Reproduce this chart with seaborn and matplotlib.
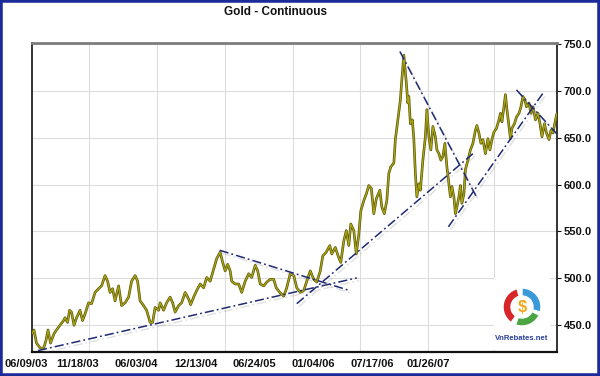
import matplotlib
matplotlib.use("Agg")
import matplotlib.pyplot as plt
import matplotlib.patheffects as pe
from matplotlib.patches import Rectangle, Wedge
import seaborn as sns
import pandas as pd

# gold continuous contract, x = trading-bar index from 06/09/03
bars = [0, 4, 9, 16, 23, 28, 32, 37, 44, 49, 56, 63, 66, 71, 75, 79, 84, 89, 96, 101,
        106, 113, 119, 126, 133, 139, 146, 151, 156, 161, 166, 173, 179, 186, 193, 199, 206, 211, 216, 223,
        229, 236, 241, 246, 253, 256, 263, 269, 276, 281, 286, 293, 299, 306, 313, 317, 323, 329, 336, 343,
        349, 356, 363, 369, 376, 381, 386, 391, 396, 399, 406, 413, 419, 426, 433, 439, 446, 451, 456, 463,
        469, 476, 483, 488, 495, 503, 509, 516, 523, 529, 536, 543, 549, 556, 563, 569, 576, 581, 588, 595,
        599, 606, 613, 617, 623, 628, 633, 637, 643, 648, 653, 657, 663, 668, 673, 678, 683, 688, 695, 699,
        704, 709, 713, 717, 723, 726, 731, 736, 739, 743, 745, 748, 751, 753, 756, 760, 763, 766, 769, 773,
        776, 781, 786, 789, 793, 797, 801, 806, 809, 813, 817, 821, 825, 829, 833, 836, 839, 843, 846, 849,
        853, 856, 859, 863, 866, 871, 876, 881, 886, 889, 893, 897, 901, 906, 911, 915, 919, 923, 928, 933,
        936, 939, 943, 946, 949, 953, 956, 959, 964, 968, 973, 977, 981, 985, 988, 993, 997, 1001, 1006, 1011,
        1015, 1019, 1024, 1028, 1033, 1037, 1041, 1046, 1049]
prices = [441, 445, 431, 426, 425, 434, 445, 431, 441, 445, 450, 455, 458, 453, 466, 464, 450, 458, 466, 455,
          462, 474, 473, 485, 489, 492, 503, 497, 485, 489, 476, 492, 471, 474, 480, 497, 503, 497, 476, 471,
          466, 453, 453, 469, 466, 474, 466, 474, 480, 474, 464, 471, 474, 485, 478, 472, 480, 487, 494, 490,
          501, 497, 510, 521, 528, 517, 508, 515, 508, 497, 494, 494, 485, 497, 505, 501, 514, 508, 494, 492,
          496, 499, 499, 490, 485, 481, 490, 505, 503, 490, 485, 487, 497, 508, 499, 496, 508, 524, 528, 535,
          526, 533, 522, 517, 540, 551, 535, 558, 551, 526, 547, 572, 583, 590, 599, 596, 569, 585, 594, 576,
          569, 583, 612, 619, 623, 648, 669, 690, 712, 738, 726, 708, 687, 694, 665, 669, 648, 612, 587, 601,
          594, 626, 651, 680, 651, 637, 662, 651, 637, 633, 626, 630, 644, 619, 601, 587, 598, 587, 569, 576,
          587, 599, 580, 590, 616, 626, 637, 644, 658, 663, 655, 644, 648, 633, 649, 637, 648, 656, 660, 669,
          676, 667, 683, 696, 680, 662, 649, 660, 665, 672, 676, 683, 694, 690, 683, 687, 676, 683, 669, 676,
          665, 651, 665, 655, 648, 658, 655, 669, 676]

# hand-drawn trendlines (start, end)
trend_x = [[12, 649], [375, 635], [529, 881], [735, 888], [832, 1021], [968, 1054]]
trend_y = [[423, 500.5], [530, 487], [473, 633], [742, 587], [555, 697.5], [701, 651]]

grid_bars = [114, 250, 386, 522, 656, 792, 924]
label_bars = [-12, 91, 208, 328, 444, 562, 680, 792]
labels = ["06/09/03", "11/18/03", "06/03/04", "12/13/04", "06/24/05", "01/04/06", "07/17/06", "01/26/07"]
y_ticks = [450, 500, 550, 600, 650, 700, 750]

sns.set_style("white")
plt.rcParams["font.family"] = ["Liberation Sans", "DejaVu Sans"]

fig = plt.figure(figsize=(6, 3.76), dpi=100)
ax = fig.add_axes([32 / 600, 1 - 352 / 376, 525 / 600, 309 / 376])

df = pd.DataFrame({"bar": bars, "price": prices})
sns.lineplot(data=df, x="bar", y="price", ax=ax, color="#aaa512", linewidth=0.9,
             path_effects=[pe.Stroke(linewidth=1.9, foreground="#5a560a"), pe.Normal()], zorder=3)

for tx, ty in zip(trend_x, trend_y):
    ax.plot(tx, ty, color="#1f2a72", linewidth=1.1, dashes=(6, 2, 1.2, 2), zorder=4,
            path_effects=[pe.SimpleLineShadow(offset=(1.5, -2), shadow_color="#8a8a8a", alpha=0.25),
                          pe.Normal()])

ax.set_xlim(0, 1049)
ax.set_ylim(421.5, 751)
ax.set_xticks(grid_bars)
ax.set_xticklabels([])
ax.tick_params(axis="x", length=0)
ax.yaxis.tick_right()
ax.set_yticks(y_ticks)
ax.set_yticklabels([f"{v:.1f}" for v in y_ticks], fontsize=8, fontweight="bold")
ax.tick_params(axis="y", length=3, width=0.8, pad=2, colors="#111111")
ax.grid(True, color="#dcdcdc", linewidth=0.8)
ax.set_xlabel("")
ax.set_ylabel("")

for s in ["left", "right"]:
    ax.spines[s].set_color("#111111")
    ax.spines[s].set_linewidth(1.2)
ax.spines["bottom"].set_color("#111111")
ax.spines["bottom"].set_linewidth(1.6)
ax.spines["top"].set_color("#7d7d7d")
ax.spines["top"].set_linewidth(2)

trans = ax.get_xaxis_transform()
for b, lab in zip(label_bars, labels):
    ax.text(b, -0.022, lab, transform=trans, ha="center", va="top", fontsize=8,
            fontweight="bold", color="#111111", clip_on=False)

fig.text(275 / 600, 1 - 12 / 376, "Gold - Continuous", ha="center", va="center",
         fontsize=8.5, fontweight="bold", color="#111111")

# VnRebates watermark on a white patch
lax = fig.add_axes([494 / 600, 1 - 350 / 376, 56 / 600, 72 / 376], zorder=5)
lax.set_xlim(-28, 28)
lax.set_ylim(-40, 32)
lax.set_facecolor("white")
lax.set_xticks([])
lax.set_yticks([])
for s in lax.spines.values():
    s.set_visible(False)
lax.add_patch(Wedge((0, 3), 19, 105, 235, width=8, facecolor="#d7262a"))
lax.add_patch(Wedge((0, 3), 19, -15, 90, width=8, facecolor="#3a9ad9"))
lax.add_patch(Wedge((0, 3), 19, 250, 335, width=8, facecolor="#4aa542"))
lax.text(0, 3, "$", ha="center", va="center", fontsize=12, fontweight="bold", color="#f2a81d")
lax.text(0, -29, "VnRebates.net", ha="center", va="center", fontsize=5.5,
         fontweight="bold", color="#2a3f9a")

fig.patches.append(Rectangle((0, 0), 1, 1, transform=fig.transFigure, fill=False,
                             edgecolor="#1b2c9a", linewidth=4, zorder=10))

fig.savefig("out.png", dpi=100)
